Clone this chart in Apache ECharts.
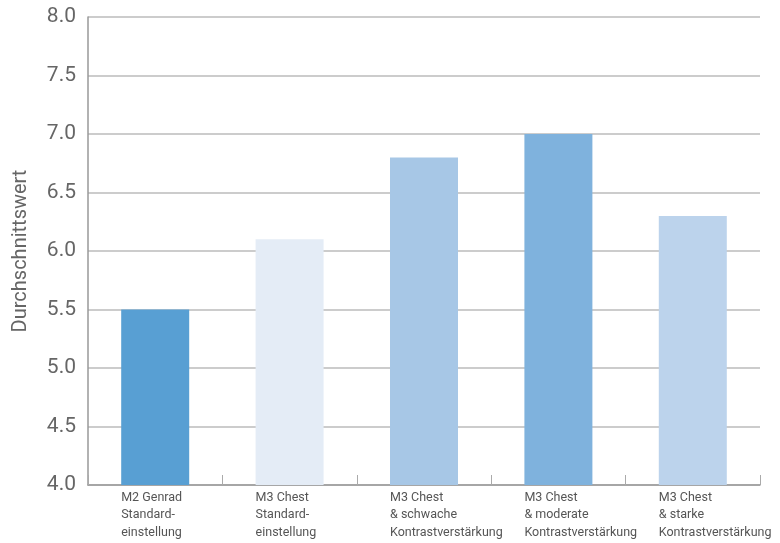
<!DOCTYPE html>
<html><head><meta charset="utf-8">
<script src="https://cdn.jsdelivr.net/npm/echarts@6/dist/echarts.min.js"></script>
<style>html,body{margin:0;padding:0;background:#fff}#c{width:780px;height:543px}</style>
</head><body><div id="c"></div>
<script>
const categories = ["M2 Genrad\nStandard-\neinstellung", "M3 Chest\nStandard-\neinstellung", "M3 Chest\n& schwache\nKontrastverstärkung", "M3 Chest\n& moderate\nKontrastverstärkung", "M3 Chest\n& starke\nKontrastverstärkung"];
const values = [5.5, 6.1, 6.8, 7.0, 6.3];
const barColors = ["#589fd3", "#e4ecf6", "#a7c7e6", "#7fb2dd", "#bcd3ec"];
const yTicks = {min: 4.0, max: 8.0, interval: 0.5};
const yName = "Durchschnittswert";

const font = "'Roboto', sans-serif";
const chart = echarts.init(document.getElementById('c'));
chart.setOption({
  animation: false,
  grid: {left: 88, right: 20, top: 17, bottom: 58, outerBoundsMode: 'none', containLabel: false},
  xAxis: {
    type: 'category',
    data: categories,
    axisLine: {lineStyle: {color: '#999', width: 1.5}},
    axisTick: {show: true, inside: true, length: 10, lineStyle: {color: '#aaa'}},
    axisLabel: {
      color: '#555', fontFamily: font, fontSize: 12.5, lineHeight: 17.5,
      align: 'left', padding: [0, 0, 0, -34], margin: 4, interval: 0
    }
  },
  yAxis: {
    type: 'value', min: yTicks.min, max: yTicks.max, interval: yTicks.interval,
    name: yName, nameLocation: 'middle', nameGap: 57, nameRotate: 90,
    nameTextStyle: {color: '#666', fontFamily: font, fontSize: 20},
    axisLine: {show: true, lineStyle: {color: '#999', width: 1.5}},
    axisTick: {show: false},
    axisLabel: {color: '#666', fontFamily: font, fontSize: 21, margin: 12,
      formatter: v => v.toFixed(1)},
    splitLine: {lineStyle: {color: '#bbb', width: 1.5}}
  },
  series: [{
    type: 'bar', barWidth: 68,
    data: values.map((v, i) => ({value: v, itemStyle: {color: barColors[i]}}))
  }]
});
</script></body></html>
